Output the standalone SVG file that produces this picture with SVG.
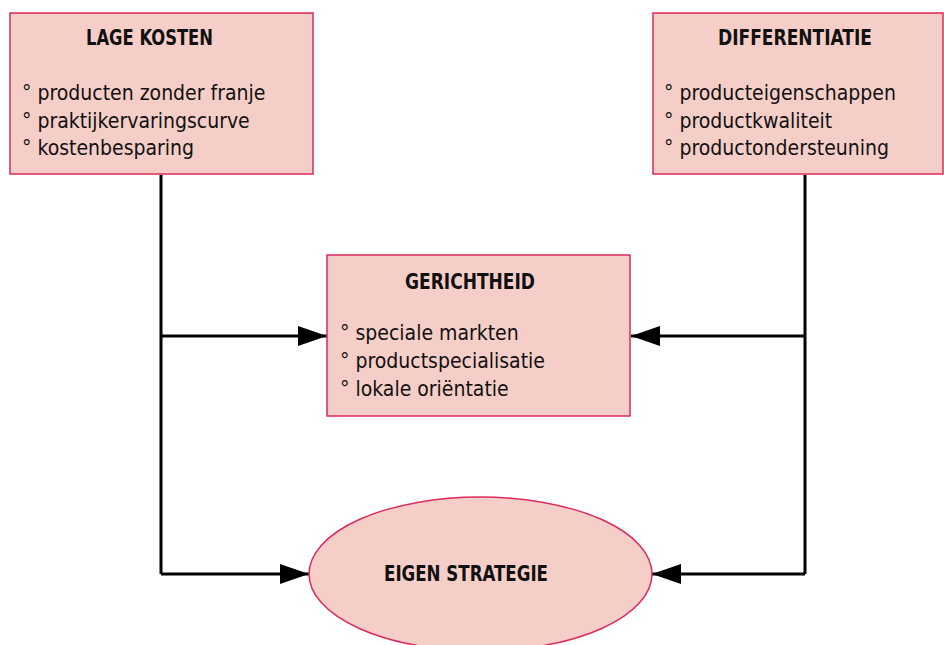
<svg xmlns="http://www.w3.org/2000/svg" width="944" height="645" viewBox="0 0 944 645">
<defs>
<style>
.box{fill:#f6cec8;stroke:#dc2a5c;stroke-width:1.5}
.t{font-family:"DejaVu Sans Condensed","DejaVu Sans",sans-serif;font-weight:bold;font-size:22px;fill:#111;text-anchor:middle}
.i{font-family:"DejaVu Sans Condensed","DejaVu Sans",sans-serif;font-size:21px;fill:#111}
.ln{fill:none;stroke:#000;stroke-width:3}
</style>
<marker id="ah" viewBox="0 0 29 20" refX="29" refY="10" markerWidth="29" markerHeight="20" markerUnits="userSpaceOnUse" orient="auto">
<path d="M0,0 L29,10 L0,20 Z" fill="#000"/>
</marker>
</defs>
<rect width="944" height="645" fill="#fff"/>
<g id="connectors">
<path class="ln" d="M161,175 V574"/>
<path class="ln" d="M161,336 H327" marker-end="url(#ah)"/>
<path class="ln" d="M161,574 H309" marker-end="url(#ah)"/>
<path class="ln" d="M805,175 V574"/>
<path class="ln" d="M805,336 H631" marker-end="url(#ah)"/>
<path class="ln" d="M805,574 H652" marker-end="url(#ah)"/>
</g>
<g id="lage-kosten">
<rect class="box" x="10" y="13" width="303" height="161"/>
<text class="t" x="149.5" y="45" textLength="127" lengthAdjust="spacingAndGlyphs">LAGE KOSTEN</text>
<text class="i" x="22" y="100">° producten zonder franje</text>
<text class="i" x="22" y="128">° praktijkervaringscurve</text>
<text class="i" x="22" y="155">° kostenbesparing</text>
</g>
<g id="differentiatie">
<rect class="box" x="653" y="13" width="290" height="161"/>
<text class="t" x="795" y="45" textLength="154" lengthAdjust="spacingAndGlyphs">DIFFERENTIATIE</text>
<text class="i" x="664" y="100">° producteigenschappen</text>
<text class="i" x="664" y="128">° productkwaliteit</text>
<text class="i" x="664" y="155">° productondersteuning</text>
</g>
<g id="gerichtheid">
<rect class="box" x="327" y="255" width="303" height="161"/>
<text class="t" x="470" y="289" textLength="130" lengthAdjust="spacingAndGlyphs">GERICHTHEID</text>
<text class="i" x="340" y="340">° speciale markten</text>
<text class="i" x="340" y="368">° productspecialisatie</text>
<text class="i" x="340" y="396">° lokale oriëntatie</text>
</g>
<g id="eigen-strategie">
<ellipse class="box" cx="480.5" cy="574" rx="171.5" ry="77"/>
<text class="t" x="466" y="581" textLength="164" lengthAdjust="spacingAndGlyphs">EIGEN STRATEGIE</text>
</g>
</svg>
